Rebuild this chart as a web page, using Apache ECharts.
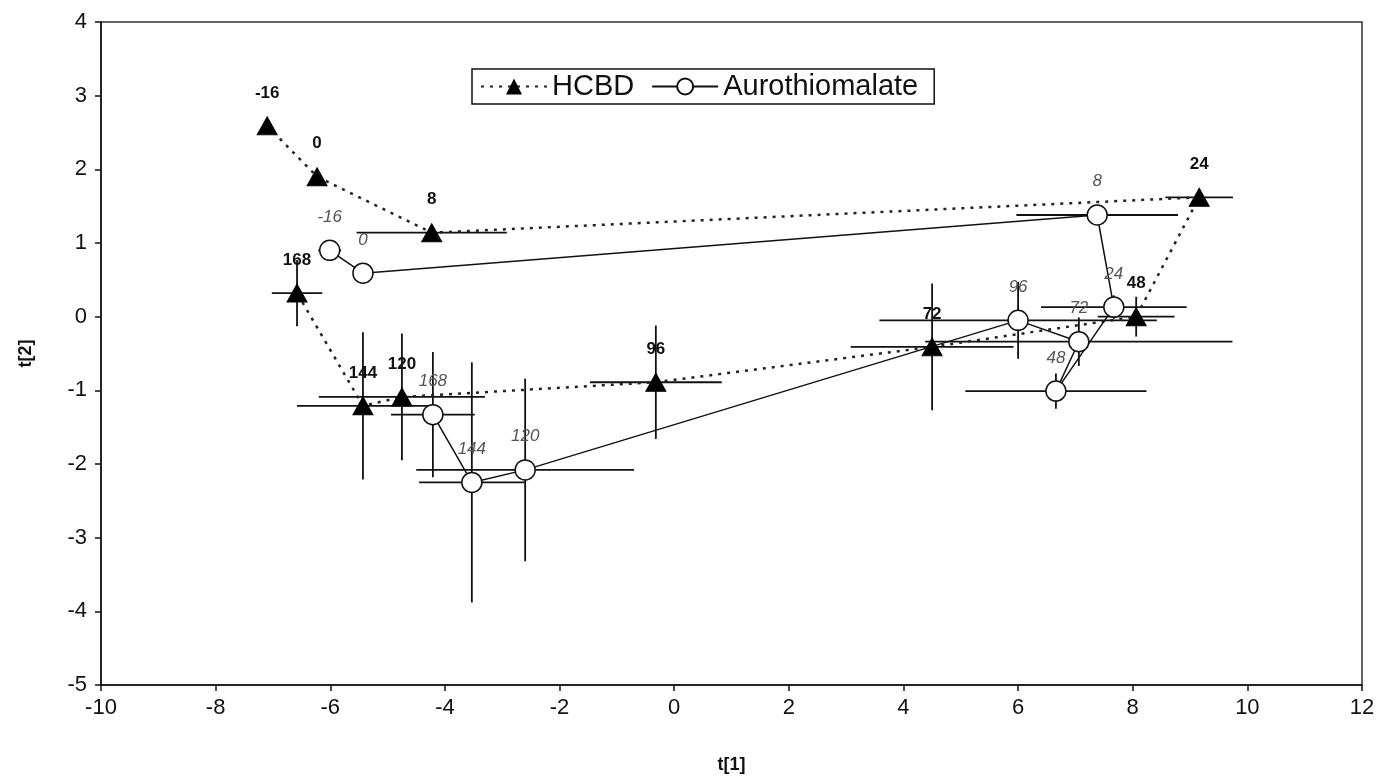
<!DOCTYPE html>
<html>
<head>
<meta charset="utf-8">
<script src="https://cdn.jsdelivr.net/npm/echarts@6/dist/echarts.min.js"></script>
<style>
html, body { margin: 0; padding: 0; background: #fff; }
#chart { width: 1381px; height: 781px; }
</style>
</head>
<body>
<div id="chart"></div>
<script>
//时间点标签
var hcbdTimes = ['-16', '0', '8', '24', '48', '72', '96', '120', '144', '168'];
var auroTimes = ['-16', '0', '8', '24', '48', '72', '96', '120', '144', '168'];

//HCBD 得分及误差
var hcbdX = [-7.10, -6.23, -4.23, 9.16, 8.06, 4.50, -0.32, -4.75, -5.43, -6.58];
var hcbdY = [2.59, 1.90, 1.14, 1.62, 0.00, -0.41, -0.89, -1.09, -1.21, 0.32];
var hcbdXErr = [0, 0, 1.31, 0.59, 0.67, 1.42, 1.15, 1.45, 1.15, 0.44];
var hcbdYErr = [0, 0, 0, 0, 0.27, 0.86, 0.77, 0.86, 1.00, 0.45];

//Aurothiomalate 得分及误差
var auroX = [-6.01, -5.43, 7.38, 7.67, 6.66, 7.06, 6.00, -2.60, -3.53, -4.21];
var auroY = [0.90, 0.59, 1.38, 0.13, -1.01, -0.34, -0.05, -2.08, -2.25, -1.33];
var auroXErr = [0.20, 0, 1.41, 1.27, 1.58, 2.68, 2.42, 1.90, 0.92, 0.73];
var auroYErr = [0.14, 0, 0, 0.16, 0.24, 0.33, 0.52, 1.24, 1.63, 0.85];

var fontName = '"Liberation Sans", Arial, sans-serif';

var pointData = function(xs, ys) {
	var out = [];
	for(var i = 0; i < xs.length; i++) {
		out.push([xs[i], ys[i]]);
	}
	return out;
};

var errData = function(xs, ys, ex, ey) {
	var out = [];
	for(var i = 0; i < xs.length; i++) {
		out.push([xs[i], ys[i], ex[i], ey[i]]);
	}
	return out;
};

//误差线绘制
var renderErr = function(params, api) {
	var x = api.value(0), y = api.value(1), ex = api.value(2), ey = api.value(3);
	var kids = [];
	var st = { stroke: '#111', lineWidth: 1.8 };
	if(ex > 0) {
		var l = api.coord([x - ex, y]);
		var r = api.coord([x + ex, y]);
		kids.push({ type: 'line', shape: { x1: l[0], y1: l[1], x2: r[0], y2: r[1] }, style: st });
	}
	if(ey > 0) {
		var t = api.coord([x, y + ey]);
		var b = api.coord([x, y - ey]);
		kids.push({ type: 'line', shape: { x1: t[0], y1: t[1], x2: b[0], y2: b[1] }, style: st });
	}
	return { type: 'group', children: kids };
};

var chart = echarts.init(document.getElementById('chart'));
chart.setOption({
	animation: false,
	textStyle: { fontFamily: fontName },
	grid: {
		left: 101,
		right: 19,
		top: 22,
		bottom: 96,
		show: true,
		borderColor: '#333',
		borderWidth: 1.5
	},
	legend: {
		data: ['HCBD', 'Aurothiomalate'],
		left: 472,
		top: 69,
		padding: [3, 16, 3, 8],
		borderColor: '#111',
		borderWidth: 1.5,
		itemWidth: 66,
		itemHeight: 20,
		itemGap: 17,
		textStyle: { fontSize: 29, color: '#111', fontFamily: fontName }
	},
	xAxis: {
		type: 'value',
		min: -10,
		max: 12,
		interval: 2,
		name: 't[1]',
		nameLocation: 'middle',
		nameGap: 71,
		nameTextStyle: { fontSize: 18, fontWeight: 'bold', color: '#111' },
		axisLine: { onZero: false, lineStyle: { color: '#111', width: 1.5 } },
		axisTick: { length: 6, lineStyle: { color: '#111', width: 1.5 } },
		axisLabel: { fontSize: 22, color: '#111', margin: 12 },
		splitLine: { show: false }
	},
	yAxis: {
		type: 'value',
		min: -5,
		max: 4,
		interval: 1,
		name: 't[2]',
		nameLocation: 'middle',
		nameGap: 66,
		nameTextStyle: { fontSize: 18, fontWeight: 'bold', color: '#111' },
		axisLine: { onZero: false, lineStyle: { color: '#111', width: 1.5 } },
		axisTick: { length: 6, lineStyle: { color: '#111', width: 1.5 } },
		axisLabel: { fontSize: 22, color: '#111', margin: 14 },
		splitLine: { show: false }
	},
	series: [{
		name: 'hcbd-err',
		type: 'custom',
		renderItem: renderErr,
		encode: { x: 0, y: 1 },
		data: errData(hcbdX, hcbdY, hcbdXErr, hcbdYErr),
		z: 1,
		silent: true
	}, {
		name: 'auro-err',
		type: 'custom',
		renderItem: renderErr,
		encode: { x: 0, y: 1 },
		data: errData(auroX, auroY, auroXErr, auroYErr),
		z: 1,
		silent: true
	}, {
		name: 'HCBD',
		type: 'line',
		data: pointData(hcbdX, hcbdY),
		symbol: 'triangle',
		symbolSize: [20, 18],
		itemStyle: { color: '#000', borderColor: '#000' },
		lineStyle: { color: '#222', width: 2.5, type: [3, 6] },
		label: {
			show: true,
			position: 'top',
			distance: 15,
			fontSize: 17,
			fontWeight: 'bold',
			color: '#111',
			formatter: function(p) { return hcbdTimes[p.dataIndex]; }
		},
		z: 3
	}, {
		name: 'Aurothiomalate',
		type: 'line',
		data: pointData(auroX, auroY),
		symbol: 'circle',
		symbolSize: 20,
		itemStyle: { color: '#fff', borderColor: '#111', borderWidth: 1.5 },
		lineStyle: { color: '#111', width: 1.5 },
		label: {
			show: true,
			position: 'top',
			distance: 14,
			fontSize: 17,
			fontStyle: 'italic',
			color: '#555',
			formatter: function(p) { return auroTimes[p.dataIndex]; }
		},
		z: 4
	}]
});
</script>
</body>
</html>
